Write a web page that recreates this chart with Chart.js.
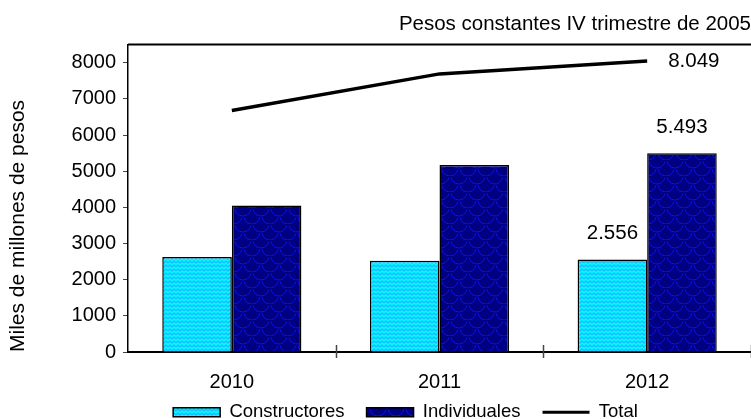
<!DOCTYPE html>
<html>
<head>
<meta charset="utf-8">
<title>Créditos hipotecarios</title>
<script src="https://cdn.jsdelivr.net/npm/chart.js@4.4.1/dist/chart.umd.min.js"></script>
<style>
    html, body { margin: 0; padding: 0; background: #fff; overflow: hidden; }
    #wrap { width: 751px; height: 419px; }
</style>
</head>
<body>
<div id="wrap"><canvas id="chart" width="751" height="419"></canvas></div>
<script>
// Chart data
const years = ['2010', '2011', '2012'];
const constructores = [2630, 2520, 2556];
const individuales = [4050, 5170, 5493];
const total = [6680, 7690, 8049];
const yTicks = [0, 1000, 2000, 3000, 4000, 5000, 6000, 7000, 8000];
const labeledYears = ['2012'];

Chart.defaults.font.family = "'Liberation Sans', Arial, sans-serif";
Chart.defaults.color = '#000';

const canvas = document.getElementById('chart');
const ctx = canvas.getContext('2d');

// Fill patterns for the bars
function makePattern(w, h, bg, fg, draw) {
    const tile = document.createElement('canvas');
    tile.width = w;
    tile.height = h;
    const g = tile.getContext('2d');
    g.fillStyle = bg;
    g.fillRect(0, 0, w, h);
    g.strokeStyle = fg;
    draw(g);
    return ctx.createPattern(tile, 'repeat');
}

const cyanPattern = makePattern(8, 8, '#00FFFF', '#1CB8FF', g => {
    g.lineWidth = 1.4;
    [0, 4].forEach(y => {
        g.beginPath();
        g.moveTo(0, y + 3);
        g.lineTo(2, y + 1);
        g.lineTo(4, y + 3);
        g.lineTo(6, y + 1);
        g.lineTo(8, y + 3);
        g.stroke();
    });
});

const navyPattern = makePattern(18, 16, '#000080', '#0A14F0', g => {
    g.lineWidth = 1;
    g.beginPath(); g.arc(9, 0, 8, 0.2, Math.PI - 0.2); g.stroke();
    g.beginPath(); g.arc(0, 8, 8, 0.2, Math.PI - 0.2); g.stroke();
    g.beginPath(); g.arc(18, 8, 8, 0.2, Math.PI - 0.2); g.stroke();
    g.beginPath(); g.arc(9, 16, 8, 0.2, Math.PI - 0.2); g.stroke();
});

// Format number with dots as thousand separators
function formatNumber(num) {
    return num.toString().replace(/\B(?=(\d{3})+(?!\d))/g, '.');
}

// Nudge legend box, draw top frame line and crossing ticks
const framePlugin = {
    id: 'frame',
    afterLayout(chart) {
        // legend sits a bit right of centre and low in the original
        chart.legend.left += 30;
        chart.legend.right += 30;
        chart.legend.top = chart.height - 38;
        chart.legend.bottom = chart.height;
    },
    afterDraw(chart) {
        const { ctx, chartArea } = chart;
        const xs = chart.scales.x;
        ctx.save();
        ctx.strokeStyle = '#000';
        ctx.lineWidth = 2;
        ctx.beginPath();
        ctx.moveTo(chartArea.left, chartArea.top);
        ctx.lineTo(chartArea.right, chartArea.top);
        ctx.stroke();

        const half = (xs.getPixelForValue(1) - xs.getPixelForValue(0)) / 2;
        ctx.lineWidth = 1.5;
        ctx.strokeStyle = '#444';
        for (let i = 1; i <= years.length; i++) {
            const x = Math.round(xs.getPixelForValue(i) - half) + 0.5;
            ctx.beginPath();
            ctx.moveTo(x, chartArea.bottom - 7);
            ctx.lineTo(x, chartArea.bottom + 6);
            ctx.stroke();
        }
        ctx.restore();
    }
};

// Value labels on the last year
const valueLabelPlugin = {
    id: 'valueLabels',
    afterDatasetsDraw(chart) {
        const { ctx } = chart;
        ctx.save();
        ctx.fillStyle = '#000';
        ctx.font = "20.5px 'Liberation Sans', Arial, sans-serif";
        ctx.textBaseline = 'middle';
        chart.data.datasets.forEach((ds, di) => {
            const meta = chart.getDatasetMeta(di);
            labeledYears.forEach(year => {
                const idx = years.indexOf(year);
                const el = meta.data[idx];
                const text = formatNumber(ds.data[idx]);
                if (ds.type === 'line') {
                    ctx.textAlign = 'left';
                    ctx.fillText(text, el.x + 21, el.y);
                } else {
                    ctx.textAlign = 'center';
                    ctx.fillText(text, el.x, el.y - 26);
                }
            });
        });
        ctx.restore();
    }
};

new Chart(ctx, {
    type: 'bar',
    data: {
        labels: years,
        datasets: [
            {
                label: 'Constructores',
                data: constructores,
                backgroundColor: cyanPattern,
                borderColor: '#000',
                borderWidth: 1.5,
                categoryPercentage: 0.67,
                barPercentage: 1.0,
                order: 1
            },
            {
                label: 'Individuales',
                data: individuales,
                backgroundColor: navyPattern,
                borderColor: '#000',
                borderWidth: 1.5,
                categoryPercentage: 0.67,
                barPercentage: 1.0,
                order: 1
            },
            {
                type: 'line',
                label: 'Total',
                data: total,
                borderColor: '#000',
                backgroundColor: '#000',
                borderWidth: 3.5,
                pointRadius: 0,
                tension: 0,
                order: 0
            }
        ]
    },
    options: {
        responsive: false,
        animation: false,
        devicePixelRatio: 1,
        layout: { padding: { top: 12, right: 0, bottom: 0, left: 0 } },
        plugins: {
            title: {
                display: true,
                text: 'Pesos constantes IV trimestre de 2005',
                align: 'end',
                color: '#000',
                font: { size: 20.5, weight: 'normal' },
                padding: { top: 0, bottom: 8 }
            },
            legend: {
                position: 'bottom',
                maxHeight: 27,
                labels: {
                    usePointStyle: true,
                    pointStyleWidth: 47,
                    boxHeight: 9,
                    padding: 22,
                    color: '#000',
                    font: { size: 18.5 },
                    sort: (a, b) => a.datasetIndex - b.datasetIndex,
                    generateLabels(chart) {
                        const items = Chart.defaults.plugins.legend.labels.generateLabels(chart);
                        items.forEach(item => {
                            const ds = chart.data.datasets[item.datasetIndex];
                            if (ds.type === 'line') {
                                item.pointStyle = 'line';
                                item.lineWidth = 3;
                                item.strokeStyle = '#000';
                            } else {
                                item.pointStyle = 'rect';
                                item.lineWidth = 1.5;
                                item.strokeStyle = '#000';
                            }
                        });
                        return items;
                    }
                }
            },
            tooltip: { enabled: false }
        },
        scales: {
            x: {
                offset: true,
                grid: { display: false, drawTicks: false },
                border: { display: true, color: '#000', width: 2 },
                ticks: { color: '#000', font: { size: 20 }, padding: 18 },
                afterFit: scale => {
                    scale.height = 40;
                }
            },
            y: {
                min: 0,
                max: 8500,
                afterBuildTicks: scale => {
                    scale.ticks = yTicks.map(v => ({ value: v }));
                },
                afterFit: scale => {
                    scale.width = 128;
                },
                ticks: {
                    color: '#000',
                    font: { size: 20 },
                    padding: 7,
                    callback: value => String(value)
                },
                grid: { drawOnChartArea: false, drawTicks: true, tickLength: 5, color: '#444' },
                border: { display: true, color: '#000', width: 1.5 },
                title: {
                    display: true,
                    text: 'Miles de millones de pesos',
                    align: 'start',
                    color: '#000',
                    font: { size: 21 },
                    padding: { top: 6, bottom: 0 }
                }
            }
        }
    },
    plugins: [framePlugin, valueLabelPlugin]
});
</script>
</body>
</html>
